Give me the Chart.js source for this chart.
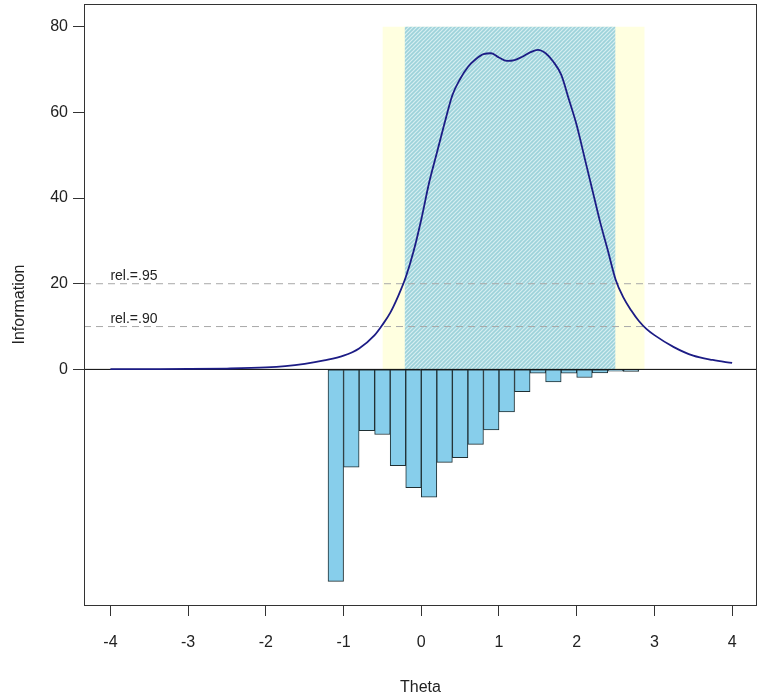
<!DOCTYPE html>
<html>
<head>
<meta charset="utf-8">
<script src="https://cdn.jsdelivr.net/npm/chart.js@4.4.0/dist/chart.umd.min.js"></script>
<style>
  html, body { margin: 0; padding: 0; background: #fff; }
  #wrap { width: 760px; height: 699px; }
</style>
</head>
<body>
<div id="wrap"><canvas id="chart" width="760" height="699"></canvas></div>
<script>
// Test information curve
const thetaGrid = [-4, -3.5, -3, -2.5, -2, -1.75, -1.5, -1.25, -1, -0.8, -0.6, -0.5, -0.4, -0.3, -0.2, -0.1,
    0, 0.1, 0.2, 0.3, 0.4, 0.5, 0.6, 0.7, 0.8, 0.9, 1.0, 1.1, 1.2, 1.3, 1.4, 1.5, 1.6, 1.7, 1.8, 1.9,
    2.0, 2.1, 2.2, 2.3, 2.4, 2.5, 2.6, 2.7, 2.8, 2.9, 3.0, 3.25, 3.5, 3.75, 4.0];
const information = [0.05, 0.07, 0.1, 0.2, 0.45, 0.75, 1.3, 2.1, 3.2, 4.9, 8.0, 10.4, 13.2, 17.0, 21.5, 27.5,
    35, 43.5, 50.5, 57.5, 64, 67.8, 70.6, 72.4, 73.6, 73.8, 72.8, 72.0, 72.2, 73.0, 74.0, 74.6, 73.8, 71.8, 68.8, 63,
    57, 49.5, 42, 34.5, 27.8, 21, 16.8, 13.8, 11.3, 9.4, 8.0, 5.2, 3.2, 2.2, 1.5];

// Histogram of theta estimates (drawn downward)
const histMids = [-1.1, -0.9, -0.7, -0.5, -0.3, -0.1, 0.1, 0.3, 0.5, 0.7, 0.9, 1.1, 1.3, 1.5, 1.7, 1.9, 2.1, 2.3, 2.5, 2.7];
const histValues = [-49.5, -22.8, -14.3, -15.2, -22.5, -27.6, -29.8, -21.7, -20.6, -17.5, -14.1, -9.9, -5.2, -0.9, -2.9, -0.9, -1.9, -0.8, -0.4, -0.5];

// Reliability thresholds and the theta ranges above them
const relLevels = [20, 10];
const relLabels = ['rel.=.95', 'rel.=.90'];
const range95 = [-0.215, 2.5];
const range90 = [-0.5, 2.875];
const shadeTop = 80;

const xTicks = [-4, -3, -2, -1, 0, 1, 2, 3, 4];
const yTicks = [0, 20, 40, 60, 80];
const xLimits = [-4.34, 4.32];
const yLimits = [-55, 85.3];

function hatchPattern() {
    const c = document.createElement('canvas');
    c.width = 4; c.height = 4;
    const g = c.getContext('2d');
    g.fillStyle = '#9dd2da';
    g.fillRect(0, 0, 4, 4);
    g.strokeStyle = '#d6eef1';
    g.lineWidth = 1.2;
    [[-1, 1, 1, -1], [0, 4, 4, 0], [3, 5, 5, 3]].forEach(([a, b, c2, d]) => {
        g.beginPath(); g.moveTo(a, b); g.lineTo(c2, d); g.stroke();
    });
    return g.createPattern(c, 'repeat');
}

const boxPlugin = {
    id: 'box',
    afterDatasetsDraw(chart) {
        const { ctx, chartArea: a, scales: { x, y } } = chart;
        ctx.save();
        ctx.fillStyle = '#222';
        ctx.font = '14px "Liberation Sans", Arial, sans-serif';
        ctx.textAlign = 'left';
        ctx.textBaseline = 'alphabetic';
        relLevels.forEach((lv, i) => {
            ctx.fillText(relLabels[i], x.getPixelForValue(-4), y.getPixelForValue(lv) - 4);
        });
        ctx.strokeStyle = '#333';
        ctx.lineWidth = 1;
        ctx.strokeRect(a.left + 0.5, a.top + 0.5, a.right - a.left - 1, a.bottom - a.top);
        ctx.restore();
    }
};

const fullLine = (val) => [{ x: xLimits[0], y: val }, { x: xLimits[1], y: val }];
const axisFont = { family: '"Liberation Sans", Arial, sans-serif', size: 16 };

new Chart(document.getElementById('chart'), {
    type: 'bar',
    data: {
        datasets: [
            {
                type: 'line',
                data: range90.map(t => ({ x: t, y: shadeTop })),
                borderWidth: 0,
                pointRadius: 0,
                fill: 'origin',
                backgroundColor: '#ffffe0',
                order: 6
            },
            {
                type: 'line',
                data: range95.map(t => ({ x: t, y: shadeTop })),
                borderWidth: 0,
                pointRadius: 0,
                fill: 'origin',
                backgroundColor: hatchPattern(),
                order: 5
            },
            ...relLevels.map(lv => ({
                type: 'line',
                data: fullLine(lv),
                borderColor: '#a8a8a8',
                borderWidth: 1,
                borderDash: [7, 5],
                pointRadius: 0,
                fill: false,
                order: 4
            })),
            {
                type: 'bar',
                data: histMids.map((m, i) => ({ x: m, y: histValues[i] })),
                backgroundColor: '#87ceeb',
                borderColor: '#1f2f33',
                borderWidth: 1,
                borderSkipped: false,
                barPercentage: 1,
                categoryPercentage: 1,
                order: 3
            },
            {
                type: 'line',
                data: fullLine(0),
                borderColor: '#000',
                borderWidth: 1,
                pointRadius: 0,
                fill: false,
                order: 2
            },
            {
                type: 'line',
                data: thetaGrid.map((t, i) => ({ x: t, y: information[i] })),
                borderColor: '#1c1c85',
                borderWidth: 1.8,
                pointRadius: 0,
                fill: false,
                cubicInterpolationMode: 'monotone',
                order: 1
            }
        ]
    },
    options: {
        responsive: false,
        animation: false,
        events: [],
        layout: { autoPadding: false, padding: { top: 4, right: 3, left: 0, bottom: 0 } },
        plugins: { legend: { display: false }, tooltip: { enabled: false } },
        scales: {
            x: {
                type: 'linear',
                min: xLimits[0],
                max: xLimits[1],
                offset: false,
                afterBuildTicks: s => { s.ticks = xTicks.map(v => ({ value: v })); },
                afterFit: s => { s.height = 94; s.paddingLeft = 0; s.paddingRight = 0; },
                grid: { offset: false, drawOnChartArea: false, tickLength: 11, tickColor: '#333', tickWidth: 1 },
                border: { display: false },
                ticks: { color: '#222', padding: 17, maxRotation: 0, font: axisFont },
                title: {
                    display: true,
                    text: 'Theta',
                    color: '#222',
                    padding: { top: 0, bottom: 1.5 },
                    font: axisFont
                }
            },
            y: {
                type: 'linear',
                min: yLimits[0],
                max: yLimits[1],
                afterBuildTicks: s => { s.ticks = yTicks.map(v => ({ value: v })); },
                afterFit: s => { s.width = 84; s.paddingTop = 0; s.paddingBottom = 0; },
                grid: { drawOnChartArea: false, tickLength: 11, tickColor: '#333', tickWidth: 1 },
                border: { display: false },
                ticks: { color: '#222', padding: 5, font: axisFont },
                title: {
                    display: true,
                    text: 'Information',
                    color: '#222',
                    padding: { top: 9.5, bottom: 0 },
                    font: axisFont
                }
            }
        }
    },
    plugins: [boxPlugin]
});
</script>
</body>
</html>
